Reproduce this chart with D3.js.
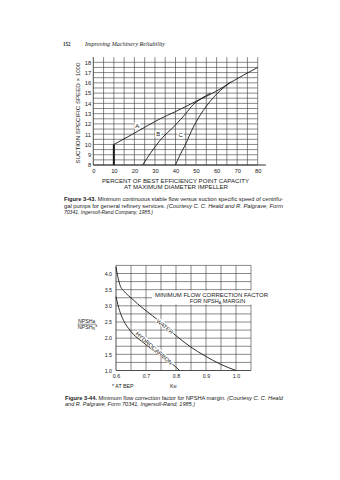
<!DOCTYPE html>
<html><head><meta charset="utf-8">
<script src="https://cdn.jsdelivr.net/npm/d3@7"></script>
<style>body{margin:0;background:#fff}svg{display:block}</style>
</head><body>
<svg id="c" width="340" height="480"></svg>
<script>
// ---------- Data: Figure 3-43 ----------
const c1XTicks = [0,10,20,30,40,50,60,70,80];
const c1YTicks = [8,9,10,11,12,13,14,15,16,17,18];
const curveA = [[10,10],[20,11.1],[32.5,12.5],[40,13.2],[50,14.2],[60,15.2],[66.5,16.0],[80,17.5]];
const curveB = [[24,8],[28,9.2],[32.5,10.4],[40,11.9],[45,13.0],[48.7,13.9],[52,14.4],[57,15.0]];
const curveC = [[40,8],[42,8.9],[44.6,9.9],[48.7,11.7],[53.5,13.3],[60,14.9],[67,16.1]];
const thickSeg = [[10,8],[10,10]];
const c1Labels = [["A",21.4,11.8],["B",31.6,11.0],["C",42.5,10.9]];
// ---------- Data: Figure 3-44 ----------
const c2XTicks = [0.6,0.7,0.8,0.9,1.0];
const c2YTicks = [1.0,1.5,2.0,2.5,3.0,3.5,4.0];
const water = [[0.6,4.2],[0.606,3.9],[0.613,3.65],[0.628,3.44],[0.647,3.27],[0.697,2.87],[0.747,2.51],[0.797,2.10],[0.847,1.74],[0.897,1.45],[0.947,1.2],[1.0,1.0]];
const hydrocarbon = [[0.6,3.28],[0.606,3.05],[0.612,2.85],[0.625,2.55],[0.647,2.24],[0.697,1.82],[0.747,1.47],[0.797,1.13],[0.812,1.0]];

const svg = d3.select("#c");
const SANS = "Liberation Sans, Arial, sans-serif";
const SERIF = "Liberation Serif, Times New Roman, serif";
const INK = "#1a1a1a";

// header
svg.append("text").attr("x",63).attr("y",45.6).attr("font-family",SERIF).attr("font-weight","bold")
  .attr("font-size",5.8).attr("fill",INK).attr("textLength",7.4).attr("lengthAdjust","spacingAndGlyphs").text("152");
svg.append("text").attr("x",85).attr("y",45.6).attr("font-family",SERIF).attr("font-style","italic")
  .attr("font-size",5.8).attr("fill",INK).attr("textLength",80).attr("lengthAdjust","spacingAndGlyphs").text("Improving Machinery Reliability");

// ================= Chart 1 =================
const x1 = d3.scaleLinear().domain([0,80]).range([93.3,257.7]);
const y1 = d3.scaleLinear().domain([8,18]).range([165,62.3]);
const g1 = svg.append("g");
const gridC = "#3a3a3a";
d3.range(0,80.01,5).forEach(v=>{
  g1.append("line").attr("x1",x1(v)).attr("x2",x1(v)).attr("y1",y1(8)).attr("y2",y1(18.5))
    .attr("stroke",gridC).attr("stroke-width",v===0?0.9:0.6);
});
d3.range(8,18.01,0.5).forEach(v=>{
  g1.append("line").attr("x1",x1(0)).attr("x2",x1(80)).attr("y1",y1(v)).attr("y2",y1(v))
    .attr("stroke",gridC).attr("stroke-width",0.6);
});
g1.append("line").attr("x1",x1(0)).attr("x2",x1(84)).attr("y1",y1(8)).attr("y2",y1(8)).attr("stroke",INK).attr("stroke-width",0.9);

const line1 = d3.line().x(d=>x1(d[0])).y(d=>y1(d[1])).curve(d3.curveMonotoneX);
// label backgrounds
c1Labels.forEach(l=>{
  g1.append("rect").attr("x",x1(l[1])-3).attr("y",y1(l[2])-3.5).attr("width",6).attr("height",7).attr("fill","#fff");
});
[curveA,curveB,curveC].forEach(c=>{
  g1.append("path").attr("d",line1(c)).attr("fill","none").attr("stroke",INK).attr("stroke-width",0.9);
});
g1.append("path").attr("d",d3.line().x(d=>x1(d[0])).y(d=>y1(d[1]))(thickSeg)).attr("stroke",INK).attr("stroke-width",2);
c1Labels.forEach(l=>{
  g1.append("text").attr("x",x1(l[1])).attr("y",y1(l[2])+2.2).attr("text-anchor","middle")
    .attr("font-family",SANS).attr("font-size",6).attr("fill",INK).text(l[0]);
});

const ax1 = g1.append("g").attr("transform",`translate(0,${y1(8)})`)
  .call(d3.axisBottom(x1).tickValues(c1XTicks).tickSize(0).tickPadding(4).tickFormat(d3.format("d")));
const ay1 = g1.append("g").attr("transform",`translate(${x1(0)},0)`)
  .call(d3.axisLeft(y1).tickValues(c1YTicks).tickSize(0).tickPadding(2.2).tickFormat(d3.format("d")));
[ax1,ay1].forEach(a=>{a.select(".domain").remove();
  a.selectAll("text").attr("font-family",SANS).attr("font-size",5.8).attr("fill",INK);});

svg.append("text").attr("transform",`translate(80,${(y1(8)+y1(18.5))/2+2}) rotate(-90)`)
  .attr("text-anchor","middle").attr("font-family",SANS).attr("font-size",6).attr("fill",INK)
  .attr("textLength",101).attr("lengthAdjust","spacingAndGlyphs").text("SUCTION SPECIFIC SPEED × 1000");
svg.append("text").attr("x",175.5).attr("y",183.3).attr("text-anchor","middle").attr("font-family",SANS)
  .attr("font-size",6).attr("fill",INK).attr("textLength",147).attr("lengthAdjust","spacingAndGlyphs")
  .text("PERCENT OF BEST EFFICIENCY POINT CAPACITY");
svg.append("text").attr("x",176).attr("y",188.8).attr("text-anchor","middle").attr("font-family",SANS)
  .attr("font-size",6).attr("fill",INK).attr("textLength",104).attr("lengthAdjust","spacingAndGlyphs")
  .text("AT MAXIMUM DIAMETER IMPELLER");

// caption helper
function caption(x,y,len,parts){
  const t = svg.append("text").attr("x",x).attr("y",y).attr("font-family",SANS).attr("font-size",5.5)
    .attr("fill",INK).attr("textLength",len).attr("lengthAdjust","spacingAndGlyphs");
  parts.forEach(p=>{
    const s=t.append("tspan").text(p[0]);
    if(p[1]==="b") s.attr("font-weight","bold");
    if(p[1]==="i") s.attr("font-style","italic");
  });
}
caption(64,201.4,219,[["Figure 3-43.","b"],[" Minimum continuous stable flow versus suction specific speed of centrifu-",""]]);
caption(64,207.6,219,[["gal pumps for general refinery services. ",""],["(Courtesy C. C. Heald and R. Palgrave, Form","i"]]);
caption(64,213.8,89,[["70341, Ingersoll-Rand Company, 1985.)","i"]]);

// ================= Chart 2 =================
const x2 = d3.scaleLinear().domain([0.6,1.0]).range([116,236]);
const y2 = d3.scaleLinear().domain([1,4]).range([370.5,273.5]);
const g2 = svg.append("g");
d3.range(0,9.01,1).map(i=>0.6+i*0.05).forEach((v,i)=>{
  g2.append("line").attr("x1",x2(v)).attr("x2",x2(v)).attr("y1",y2(1)).attr("y2",y2(4.25))
    .attr("stroke",gridC).attr("stroke-width",i===0?0.9:0.6);
});
d3.range(0,13.01,1).map(i=>1+i*0.25).forEach(v=>{
  g2.append("line").attr("x1",x2(0.6)).attr("x2",x2(1.05)).attr("y1",y2(v)).attr("y2",y2(v))
    .attr("stroke",gridC).attr("stroke-width",v===1?0.9:0.6);
});
// title box
g2.append("rect").attr("x",152).attr("y",290.5).attr("width",101).attr("height",14).attr("fill","#fff");
g2.append("text").attr("x",211.5).attr("y",297.2).attr("text-anchor","middle").attr("font-family",SANS)
  .attr("font-size",5.6).attr("fill",INK).attr("textLength",113).attr("lengthAdjust","spacingAndGlyphs")
  .text("MINIMUM FLOW CORRECTION FACTOR");
const t2 = g2.append("text").attr("x",217.5).attr("y",302.8).attr("text-anchor","middle").attr("font-family",SANS)
  .attr("font-size",5.6).attr("fill",INK);
t2.append("tspan").text("FOR NPSH");
t2.append("tspan").attr("font-size",3.8).attr("dy",1).text("A");
t2.append("tspan").attr("dy",-1).text(" MARGIN");

const line2 = d3.line().x(d=>x2(d[0])).y(d=>y2(d[1])).curve(d3.curveMonotoneX);
[water,hydrocarbon].forEach(c=>{
  g2.append("path").attr("d",line2(c)).attr("fill","none").attr("stroke",INK).attr("stroke-width",0.9);
});
function curveLabel(txt,cx,cy,ang,w){
  const g = g2.append("g").attr("transform",`translate(${cx},${cy}) rotate(${ang})`);
  g.append("rect").attr("x",-w/2-1).attr("y",-3.2).attr("width",w+2).attr("height",5.4).attr("fill","#fff");
  g.append("text").attr("x",0).attr("y",1.9).attr("text-anchor","middle").attr("font-family",SANS)
    .attr("font-size",5.4).attr("fill",INK).attr("textLength",w).attr("lengthAdjust","spacingAndGlyphs").text(txt);
}
curveLabel("WATER",x2(0.763),y2(2.36),39,20);
curveLabel("HYDROCARBON",x2(0.727),y2(1.69),41,47);

const ax2 = g2.append("g").attr("transform",`translate(0,${y2(1)})`)
  .call(d3.axisBottom(x2).tickValues(c2XTicks).tickSize(0).tickPadding(4.2).tickFormat(d3.format(".1f")));
const ay2 = g2.append("g").attr("transform",`translate(${x2(0.6)},0)`)
  .call(d3.axisLeft(y2).tickValues(c2YTicks).tickSize(0).tickPadding(4).tickFormat(d3.format(".1f")));
[ax2,ay2].forEach(a=>{a.select(".domain").remove();
  a.selectAll("text").attr("font-family",SANS).attr("font-size",5.3).attr("fill",INK);});

// y label fraction
const n1 = svg.append("text").attr("x",86.5).attr("y",322.6).attr("text-anchor","middle").attr("font-family",SANS)
  .attr("font-size",5.3).attr("fill",INK);
n1.append("tspan").text("NPSH"); n1.append("tspan").attr("font-size",3.6).attr("dy",0.8).text("A");
svg.append("line").attr("x1",77.5).attr("x2",96.5).attr("y1",324.2).attr("y2",324.2).attr("stroke",INK).attr("stroke-width",0.5);
const n2 = svg.append("text").attr("x",87.5).attr("y",329.4).attr("text-anchor","middle").attr("font-family",SANS)
  .attr("font-size",5.3).attr("fill",INK);
n2.append("tspan").text("NPSH"); n2.append("tspan").attr("font-size",3.6).attr("dy",0.8).text("R");
n2.append("tspan").attr("dy",-0.8).text("*");

svg.append("text").attr("x",112).attr("y",387.6).attr("font-family",SANS).attr("font-size",5.3).attr("fill",INK).text("* AT BEP");
const km = svg.append("text").attr("x",170).attr("y",387.6).attr("font-family",SANS).attr("font-size",5.3).attr("fill",INK);
km.append("tspan").text("K"); km.append("tspan").attr("font-size",3.6).attr("dy",0.8).text("M");

caption(65,400.4,218,[["Figure 3-44.","b"],[" Minimum flow correction factor for NPSHA margin. ",""],["(Courtesy C. C. Heald","i"]]);
caption(65,406.3,130,[["and R. Palgrave, Form 70341, Ingersoll-Rand, 1985.)","i"]]);
</script>
</body></html>
